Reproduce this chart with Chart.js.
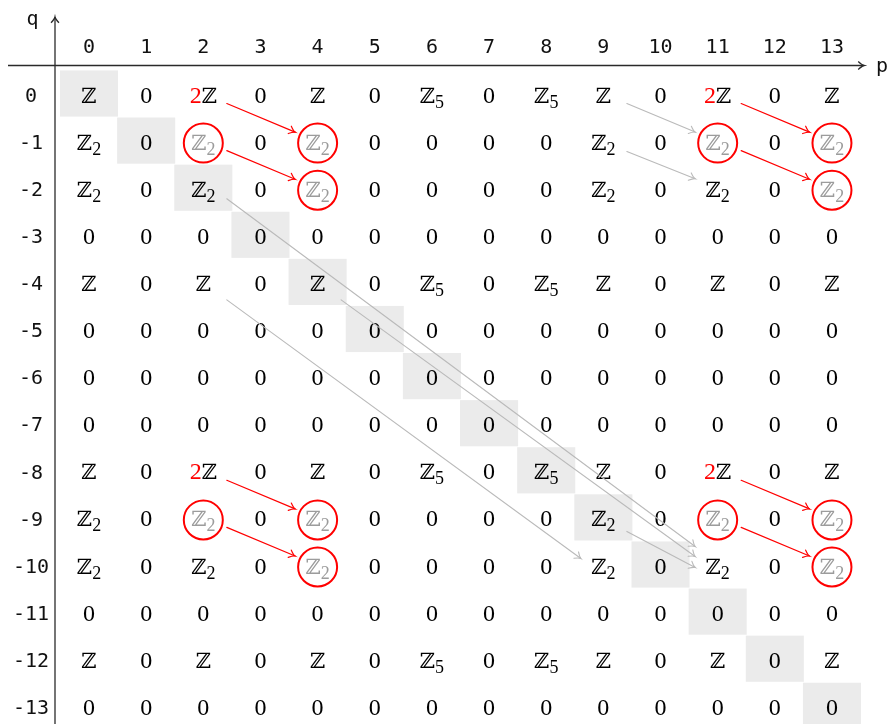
<!DOCTYPE html>
<html>
<head>
<meta charset="utf-8">
<script src="https://cdn.jsdelivr.net/npm/chart.js@4.4.1/dist/chart.umd.min.js"></script>
<style>
html,body{margin:0;padding:0;background:#fff;}
#wrap{width:891px;height:724px;position:relative;}
</style>
</head>
<body>
<div id="wrap"><canvas id="c" width="891" height="724"></canvas></div>
<script>
// ---------- data ----------
const P_TICKS = ['0','1','2','3','4','5','6','7','8','9','10','11','12','13'];
const Q_TICKS = ['0','-1','-2','-3','-4','-5','-6','-7','-8','-9','-10','-11','-12','-13'];

// entries: 'Z' = ℤ, 'Z2' = ℤ₂, 'Z5' = ℤ₅, '2Z' = 2ℤ (red 2), '0'
const ROW_A    = ['Z','0','2Z','0','Z','0','Z5','0','Z5','Z','0','2Z','0','Z'];
const ROW_B    = ['Z2','0','Z2','0','Z2','0','0','0','0','Z2','0','Z2','0','Z2'];
const ROW_C    = ['Z2','0','Z2','0','Z2','0','0','0','0','Z2','0','Z2','0','Z2'];
const ROW_D    = ['Z','0','Z','0','Z','0','Z5','0','Z5','Z','0','Z','0','Z'];
const ROW_ZERO = ['0','0','0','0','0','0','0','0','0','0','0','0','0','0'];
// row index = -q
const ROWS = [ROW_A, ROW_B, ROW_C, ROW_ZERO, ROW_D, ROW_ZERO, ROW_ZERO, ROW_ZERO,
              ROW_A, ROW_B, ROW_C, ROW_ZERO, ROW_D, ROW_ZERO];

const DIAGONAL = [[0,0],[1,-1],[2,-2],[3,-3],[4,-4],[5,-5],[6,-6],[7,-7],
                  [8,-8],[9,-9],[10,-10],[11,-11],[12,-12],[13,-13]];

const CIRCLED = [[2,-1],[4,-1],[4,-2],[11,-1],[13,-1],[13,-2],
                 [2,-9],[4,-9],[4,-10],[11,-9],[13,-9],[13,-10]];

// [fromP, fromQ, toP, toQ]
const RED_ARROWS = [[2,0,4,-1],[2,-1,4,-2],[11,0,13,-1],[11,-1,13,-2],
                    [2,-8,4,-9],[2,-9,4,-10],[11,-8,13,-9],[11,-9,13,-10]];
const GRAY_ARROWS = [[9,0,11,-1],[9,-1,11,-2],[2,-2,11,-10],[4,-4,11,-10],
                     [2,-4,9,-10],[9,-9,11,-10]];

// ---------- style ----------
const STYLE = {
  shade: '#ebebeb', shadeHalfW: 0.508, shadeHalfH: 0.49,
  text: '#000000', grayText: '#9c9c9c', red: '#ff0000', grayArrow: '#bababa',
  axis: '#2a2a2a',
  bbFont: '21px "DejaVu Serif", "DejaVu Sans"',
  numFont: '24px "Liberation Serif", "DejaVu Serif"',
  subFont: '18px "Liberation Serif", "DejaVu Serif"',
  monoFont: '20px "DejaVu Sans Mono"',
  baseline: 9, subDrop: 5, circleR: 19.5, circleDy: 2.5,
  arrowStartDx: 23.5, arrowEndDx: -22.5
};
// per-arrow vertical anchor offsets (px) [startDy, endDy]
const RED_ANCHOR = [10, -8.5];
const GRAY_ANCHORS = [[10,-8.5],[11,-9],[11,-18],[18,-8],[18,-6],[14,3]];

// ---------- rendering ----------
const cells = [];
ROWS.forEach((row, r) => row.forEach((v, p) => cells.push({x: p, y: -r, v: v})));

function isCircled(p, q) { return CIRCLED.some(c => c[0] === p && c[1] === q); }

function pieces(code) {
  if (code === 'Z') return [{t:'ℤ', f:STYLE.bbFont}];
  if (code === 'Z2') return [{t:'ℤ', f:STYLE.bbFont}, {t:'2', f:STYLE.subFont, sub:true}];
  if (code === 'Z5') return [{t:'ℤ', f:STYLE.bbFont}, {t:'5', f:STYLE.subFont, sub:true}];
  if (code === '2Z') return [{t:'2', f:STYLE.numFont, red:true}, {t:'ℤ', f:STYLE.bbFont}];
  return [{t:code, f:STYLE.numFont}];
}

function drawEntry(ctx, x, y, code, gray) {
  const ps = pieces(code);
  let total = 0;
  ps.forEach(s => { ctx.font = s.f; s.w = ctx.measureText(s.t).width; total += s.w; });
  let cx = x - total / 2;
  const base = y + STYLE.baseline;
  ctx.textAlign = 'left';
  ctx.textBaseline = 'alphabetic';
  ps.forEach(s => {
    ctx.font = s.f;
    ctx.fillStyle = s.red ? STYLE.red : (gray ? STYLE.grayText : STYLE.text);
    ctx.fillText(s.t, cx, base + (s.sub ? STYLE.subDrop : 0));
    cx += s.w;
  });
}

function arrowHead(ctx, x, y, ang) {
  const L = 7, A = 0.6;
  ctx.beginPath();
  ctx.moveTo(x - L*Math.cos(ang - A), y - L*Math.sin(ang - A));
  ctx.quadraticCurveTo(x - 2*Math.cos(ang - 0.2), y - 2*Math.sin(ang - 0.2), x, y);
  ctx.quadraticCurveTo(x - 2*Math.cos(ang + 0.2), y - 2*Math.sin(ang + 0.2),
                       x - L*Math.cos(ang + A), y - L*Math.sin(ang + A));
  ctx.stroke();
}

function drawArrow(ctx, x1, y1, x2, y2, color, lw) {
  ctx.save();
  ctx.strokeStyle = color; ctx.lineWidth = lw; ctx.lineCap = 'round';
  ctx.beginPath(); ctx.moveTo(x1, y1); ctx.lineTo(x2, y2); ctx.stroke();
  arrowHead(ctx, x2, y2, Math.atan2(y2 - y1, x2 - x1));
  ctx.restore();
}

const spectralPlugin = {
  id: 'spectral',
  beforeDatasetsDraw(chart) {
    const ctx = chart.ctx, xs = chart.scales.x, ys = chart.scales.y;
    ctx.save();
    ctx.fillStyle = STYLE.shade;
    DIAGONAL.forEach(([p, q]) => {
      const x0 = xs.getPixelForValue(p - STYLE.shadeHalfW), x1 = xs.getPixelForValue(p + STYLE.shadeHalfW);
      const y0 = ys.getPixelForValue(q + STYLE.shadeHalfH), y1 = ys.getPixelForValue(q - STYLE.shadeHalfH);
      ctx.fillRect(x0, y0, x1 - x0, y1 - y0);
    });
    ctx.restore();
  },
  afterDatasetsDraw(chart) {
    const ctx = chart.ctx, xs = chart.scales.x, ys = chart.scales.y;
    const area = chart.chartArea;
    ctx.save();
    // axes
    ctx.strokeStyle = STYLE.axis; ctx.lineWidth = 1.3;
    const ay = area.top - 0.5, ax = area.left;
    ctx.beginPath(); ctx.moveTo(8, ay); ctx.lineTo(area.right + 1, ay); ctx.stroke();
    arrowHead(ctx, area.right + 1, ay, 0);
    ctx.beginPath(); ctx.moveTo(ax, chart.height); ctx.lineTo(ax, 17); ctx.stroke();
    arrowHead(ctx, ax, 17, -Math.PI/2);
    ctx.font = STYLE.monoFont; ctx.fillStyle = '#111'; ctx.textBaseline = 'alphabetic';
    ctx.textAlign = 'center'; ctx.fillText('q', 32.5, 25);
    ctx.textAlign = 'left'; ctx.fillText('p', area.right + 13, ay + 6);

    // entries
    const meta = chart.getDatasetMeta(0);
    meta.data.forEach((el, i) => {
      const c = cells[i];
      drawEntry(ctx, el.x, el.y, c.v, isCircled(c.x, c.y));
    });

    // circles
    ctx.strokeStyle = STYLE.red; ctx.lineWidth = 2;
    CIRCLED.forEach(([p, q]) => {
      ctx.beginPath();
      ctx.arc(xs.getPixelForValue(p), ys.getPixelForValue(q) + STYLE.circleDy, STYLE.circleR, 0, Math.PI*2);
      ctx.stroke();
    });

    // arrows
    const pt = (p, q, dx, dy) => [xs.getPixelForValue(p) + dx, ys.getPixelForValue(q) + dy];
    GRAY_ARROWS.forEach((a, i) => {
      const [sdy, edy] = GRAY_ANCHORS[i];
      const s = pt(a[0], a[1], STYLE.arrowStartDx, sdy), e = pt(a[2], a[3], STYLE.arrowEndDx, edy);
      drawArrow(ctx, s[0], s[1], e[0], e[1], STYLE.grayArrow, 1.1);
    });
    RED_ARROWS.forEach(a => {
      const s = pt(a[0], a[1], STYLE.arrowStartDx, RED_ANCHOR[0]), e = pt(a[2], a[3], STYLE.arrowEndDx, RED_ANCHOR[1]);
      drawArrow(ctx, s[0], s[1], e[0], e[1], STYLE.red, 1.2);
    });
    ctx.restore();
  }
};

new Chart(document.getElementById('c'), {
  type: 'scatter',
  data: { datasets: [{ data: cells, pointRadius: 0, pointHoverRadius: 0, showLine: false }] },
  options: {
    responsive: false, animation: false, events: [],
    layout: { padding: { left: 0, top: 0, right: 28, bottom: 0 } },
    plugins: { legend: { display: false }, tooltip: { enabled: false } },
    scales: {
      x: {
        type: 'linear', position: 'top', min: -0.595, max: 13.543,
        grid: { display: false, drawTicks: false }, border: { display: false },
        ticks: {
          stepSize: 1, includeBounds: false, autoSkip: false, maxRotation: 0, padding: 6,
          color: '#111', font: { family: 'DejaVu Sans Mono', size: 20 },
          callback: v => (Number.isInteger(v) && v >= 0 && v < P_TICKS.length) ? P_TICKS[v] : ''
        },
        afterFit: s => { s.height = 66; s.paddingLeft = 0; s.paddingRight = 0; }
      },
      y: {
        type: 'linear', position: 'left', min: -13.386, max: 0.584,
        grid: { display: false, drawTicks: false }, border: { display: false },
        ticks: {
          stepSize: 1, includeBounds: false, autoSkip: false, padding: 6, crossAlign: 'center',
          labelOffset: 3,
          color: '#111', font: { family: 'DejaVu Sans Mono', size: 20 },
          callback: v => (Number.isInteger(v) && v <= 0 && -v < Q_TICKS.length) ? Q_TICKS[-v] : ''
        },
        afterFit: s => { s.width = 55; s.paddingTop = 0; s.paddingBottom = 0; }
      }
    }
  },
  plugins: [spectralPlugin]
});
</script>
</body>
</html>
